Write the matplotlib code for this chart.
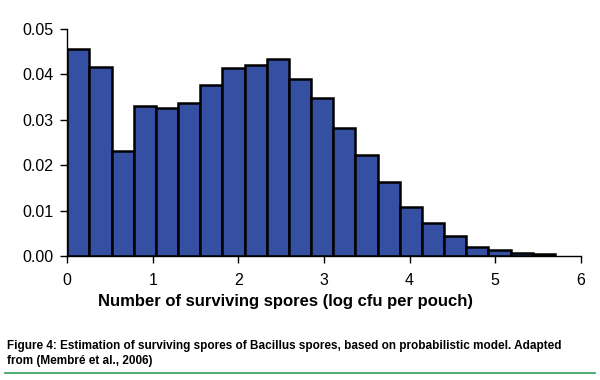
import matplotlib
matplotlib.use("Agg")
import matplotlib.pyplot as plt
import numpy as np
from matplotlib.lines import Line2D

# histogram values
bin_width = 0.259
density = [0.0456, 0.0416, 0.0232, 0.0331, 0.0326, 0.0337, 0.0377, 0.0414,
           0.0421, 0.0434, 0.0390, 0.0347, 0.0282, 0.0223, 0.0162, 0.0107,
           0.0072, 0.0045, 0.0020, 0.0013, 0.0007, 0.0004]
x_ticks = [0, 1, 2, 3, 4, 5, 6]
y_ticks = [0.00, 0.01, 0.02, 0.03, 0.04, 0.05]

plt.rcParams['font.family'] = ['Liberation Sans', 'DejaVu Sans']

fig = plt.figure(figsize=(6, 3.8), dpi=100)
ax = fig.add_axes([0.112, 0.326, 0.856, 0.598])

lefts = np.arange(len(density)) * bin_width
ax.bar(lefts, density, width=bin_width, align='edge', color='#3550A2',
       edgecolor='black', linewidth=1.8)

ax.set_xlim(0, 6)
ax.set_ylim(0, 0.05)
ax.set_xticks(x_ticks)
ax.set_yticks(y_ticks)
ax.set_yticklabels([f"{v:.2f}" for v in y_ticks])
ax.tick_params(axis='both', labelsize=11.5, direction='out', length=5, width=1,
               colors='black')
ax.tick_params(axis='x', pad=7)
ax.tick_params(axis='y', pad=5)

for s in ['top', 'right']:
    ax.spines[s].set_visible(False)
ax.spines['left'].set_linewidth(1)
ax.spines['bottom'].set_linewidth(1)

ax.set_xlabel("Number of surviving spores (log cfu per pouch)", fontsize=12,
              fontweight='bold')
ax.xaxis.set_label_coords(0.426, -0.165)

fig.text(0.012, 0.070, "Figure 4: Estimation of surviving spores of Bacillus spores, based on probabilistic model. Adapted\nfrom (Membré et al., 2006)",
         fontsize=8.5, fontweight='bold', family=['Liberation Sans Narrow', 'Liberation Sans'],
         ha='left', va='center', linespacing=1.4)

fig.add_artist(Line2D([0.008, 0.992], [0.018, 0.018], color='#2E9E5B',
                      linewidth=1.2, transform=fig.transFigure))

fig.savefig("out.png", dpi=100)
